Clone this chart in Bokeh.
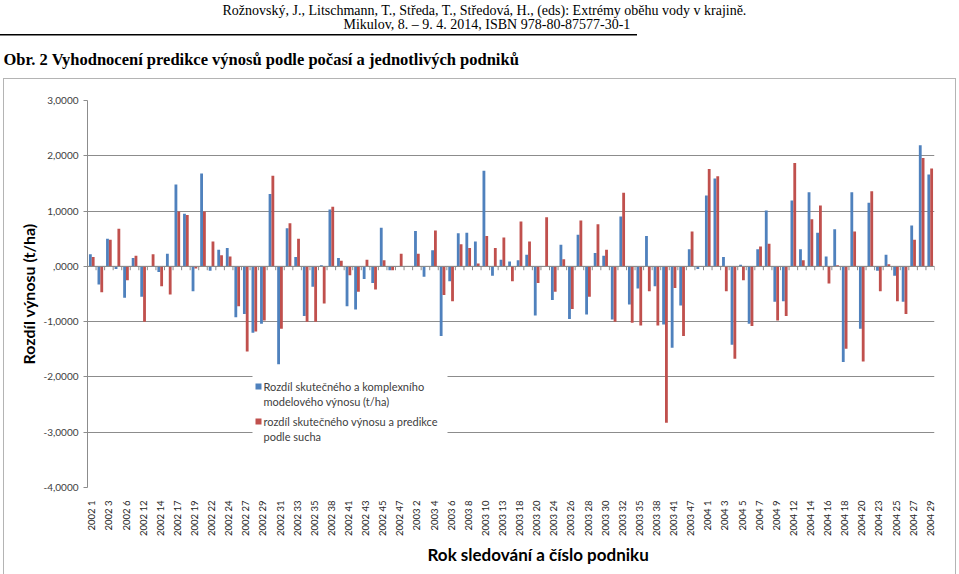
import math
from bokeh.plotting import figure
from bokeh.models import (ColumnDataSource, Range1d, FixedTicker, Label, BoxAnnotation, Span, Title,
                          LinearAxis)
from bokeh.transform import dodge
from bokeh.embed import file_html
from bokeh.resources import INLINE

# ---- data -------------------------------------------------------------
categories = [
    "2002 1", "2002 2", "2002 3", "2002 5", "2002 6", "2002 10", "2002 12", "2002 13",
    "2002 14", "2002 16", "2002 17", "2002 18", "2002 19", "2002 20", "2002 22", "2002 23",
    "2002 24", "2002 25", "2002 27", "2002 28", "2002 29", "2002 30", "2002 31", "2002 32",
    "2002 33", "2002 34", "2002 35", "2002 36", "2002 38", "2002 39", "2002 41", "2002 42",
    "2002 43", "2002 44", "2002 45", "2002 46", "2002 47", "2003 1", "2003 2", "2003 3",
    "2003 4", "2003 5", "2003 6", "2003 7", "2003 8", "2003 9", "2003 10", "2003 11",
    "2003 13", "2003 15", "2003 18", "2003 19", "2003 20", "2003 22", "2003 24", "2003 25",
    "2003 26", "2003 27", "2003 28", "2003 29", "2003 30", "2003 31", "2003 32", "2003 33",
    "2003 35", "2003 36", "2003 38", "2003 39", "2003 41", "2003 45", "2003 47", "2003 48",
    "2004 1", "2004 2", "2004 3", "2004 4", "2004 5", "2004 6", "2004 7", "2004 8",
    "2004 9", "2004 10", "2004 12", "2004 13", "2004 14", "2004 15", "2004 16", "2004 17",
    "2004 18", "2004 19", "2004 20", "2004 21", "2004 23", "2004 24", "2004 25", "2004 26",
    "2004 27", "2004 28", "2004 29",
]

rozdil_komplexni = [
    0.22, -0.33, 0.50, -0.05, -0.57, 0.15, -0.55, 0.00, -0.10, 0.23,
    1.48, 0.95, -0.45, 1.68, -0.08, 0.30, 0.33, -0.92, -0.86, -1.20,
    -1.04, 1.31, -1.77, 0.69, 0.17, -0.90, -0.37, 0.02, 1.03, 0.15,
    -0.72, -0.78, -0.23, -0.30, 0.70, -0.07, 0.00, 0.00, 0.64, -0.19,
    0.29, -1.26, -0.27, 0.60, 0.61, 0.45, 1.73, -0.17, 0.12, 0.09,
    0.11, 0.21, -0.89, 0.00, -0.61, 0.39, -0.95, 0.57, -0.87, 0.24,
    0.19, -0.96, 0.90, -0.69, -0.40, 0.55, -0.36, -1.05, -1.47, -0.71,
    0.31, -0.05, 1.28, 1.59, 0.17, -1.42, 0.03, -1.04, 0.31, 1.01,
    -0.64, -0.63, 1.19, 0.31, 1.34, 0.61, 0.18, 0.67, -1.73, 1.34,
    -1.13, 1.15, -0.08, 0.21, -0.17, -0.64, 0.74, 2.19, 1.66,
]

rozdil_sucho = [
    0.17, -0.47, 0.48, 0.68, -0.25, 0.19, -1.00, 0.22, -0.36, -0.51,
    0.99, 0.93, -0.04, 0.99, 0.45, 0.20, 0.18, -0.72, -1.54, -1.18,
    -0.98, 1.64, -1.13, 0.78, 0.50, -1.00, -1.00, -0.67, 1.08, 0.10,
    -0.16, -0.46, 0.12, -0.42, 0.11, -0.07, 0.23, 0.00, 0.23, 0.00,
    0.65, -0.52, -0.63, 0.40, 0.33, 0.05, 0.55, 0.33, 0.52, -0.27,
    0.81, 0.45, -0.30, 0.89, -0.46, 0.13, -0.77, 0.83, -0.55, 0.76,
    0.30, -1.00, 1.33, -1.02, -1.07, -0.45, -1.07, -2.83, -0.39, -1.26,
    0.63, 0.00, 1.76, 1.63, -0.45, -1.67, -0.25, -1.08, 0.36, 0.41,
    -0.98, -0.90, 1.87, 0.11, 0.85, 1.10, -0.31, 0.02, -1.49, 0.63,
    -1.72, 1.36, -0.45, 0.04, -0.63, -0.86, 0.48, 1.96, 1.77,
]

y_ticks = [-4, -3, -2, -1, 0, 1, 2, 3]
y_tick_labels = ["-4,0000", "-3,0000", "-2,0000", "-1,0000", ",0000", "1,0000", "2,0000", "3,0000"]

series_names = [
    ["Rozdíl skutečného  a komplexního", "modelového výnosu (t/ha)"],
    ["rozdíl skutečného výnosu a predikce", "podle sucha"],
]
header_lines = [
    "Rožnovský, J., Litschmann, T., Středa, T., Středová, H.,  (eds): Extrémy oběhu vody v krajině.",
    "Mikulov, 8. – 9. 4. 2014, ISBN 978-80-87577-30-1",
]
fig_title = "Obr. 2 Vyhodnocení predikce výnosů podle počasí a jednotlivých podniků"
y_title = "Rozdíl výnosu (t/ha)"
x_title = "Rok sledování a číslo podniku"

BLUE = "#4F81BD"
RED = "#C0504D"
GRID = "#8c8c8c"
BORDER = "#b4b4b4"

# ---- figure -----------------------------------------------------------
n = len(categories)
idx = list(range(n))
src = ColumnDataSource(dict(idx=idx, blue=rozdil_komplexni, red=rozdil_sucho, cat=categories))

W, H = 959, 574
FX0, FX1 = 87, 934     # page x of the plot area
FY0, FY1 = 100, 487    # page y of the plot area

page_bg = {
    "background-color": "white",
    "background-image": ", ".join(["linear-gradient(#000,#000)"] +
                                  [f"linear-gradient({BORDER},{BORDER})"] * 3),
    "background-position": "0px 34px, 3px 78px, 3px 78px, 955px 78px",
    "background-size": "637px 1.5px, 953px 1px, 1px 500px, 1px 500px",
    "background-repeat": "no-repeat",
}

p = figure(width=W, height=H, output_backend="svg", toolbar_location=None,
           x_range=Range1d(-0.5, n - 0.5), y_range=Range1d(-4, 3),
           min_border_left=FX0, min_border_right=W - FX1,
           min_border_top=FY0, min_border_bottom=H - FY1,
           background_fill_color="white", border_fill_color=None,
           styles=page_bg)
p.outline_line_color = None

p.vbar(x=dodge("idx", -0.165), top="blue", bottom=0, width=0.33, source=src,
       fill_color=BLUE, line_color=None)
p.vbar(x=dodge("idx", 0.165), top="red", bottom=0, width=0.33, source=src,
       fill_color=RED, line_color=None)

# zero line with category boundary ticks
p.add_layout(Span(location=0, dimension="width", line_color=GRID, line_width=1))
bx = [i - 0.5 for i in range(n + 1)]
p.segment(x0=bx, x1=bx, y0=[0] * len(bx), y1=[-0.07] * len(bx), line_color=GRID, line_width=1)

xa = p.xaxis[0]
xa.ticker = FixedTicker(ticks=idx[::2])
xa.major_label_overrides = {i: categories[i] for i in idx[::2]}
xa.major_label_orientation = math.pi / 2
xa.major_label_text_font = "Lato"
xa.major_label_text_font_size = "9.5px"
xa.major_label_text_color = "#262626"
xa.major_label_standoff = 7
xa.axis_line_color = None
xa.major_tick_line_color = None
xa.minor_tick_line_color = None

ya = p.yaxis[0]
ya.ticker = FixedTicker(ticks=y_ticks)
ya.major_label_overrides = dict(zip(y_ticks, y_tick_labels))
ya.major_label_text_font = "Lato"
ya.major_label_text_font_size = "10px"
ya.major_label_text_color = "#404040"
ya.major_label_standoff = 5
ya.axis_line_color = GRID
ya.major_tick_line_color = GRID
ya.major_tick_out = 4
ya.major_tick_in = 0
ya.minor_tick_line_color = None
ya.axis_label = y_title
ya.axis_label_text_font = "Lato"
ya.axis_label_text_font_size = "16px"
ya.axis_label_text_font_style = "bold"
ya.axis_label_text_color = "black"
ya.axis_label_standoff = 3

p.xgrid.grid_line_color = None
p.ygrid.ticker = FixedTicker(ticks=y_ticks)
p.ygrid.grid_line_color = GRID
p.ygrid.grid_line_width = 1

# space between the figure title and the plot area: an invisible axis
spacer = LinearAxis(ticker=FixedTicker(ticks=[idx[n // 2]]), axis_line_color=None,
                    major_tick_line_color=None, minor_tick_line_color=None,
                    major_tick_out=13, major_tick_in=0, major_label_standoff=0,
                    major_label_overrides={idx[n // 2]: ""},
                    major_label_text_font_size="0px", axis_label_standoff=0)
p.add_layout(spacer, "above")

# titles (above: first added sits nearest the plot area)
p.add_layout(Title(text=fig_title, align="left", offset=3 - FX0, text_font="Liberation Serif",
                   text_font_size="16.5px", text_font_style="bold", text_color="black",
                   standoff=37), "above")
p.add_layout(Title(text=header_lines[1], align="left", offset=343 - FX0, text_font="Liberation Serif",
                   text_font_size="14px", text_font_style="normal", text_color="black",
                   standoff=-4), "above")
p.add_layout(Title(text=header_lines[0], align="left", offset=222 - FX0, text_font="Liberation Serif",
                   text_font_size="14px", text_font_style="normal", text_color="black",
                   standoff=-3), "above")
p.add_layout(Title(text=x_title, align="left", offset=427 - FX0, text_font="Lato",
                   text_font_size="17px", text_font_style="bold", text_color="black",
                   standoff=6), "below")

# legend (frame-relative screen units)
def sx(X):
    return X - FX0
def sy(Y):
    return FY1 - Y

p.add_layout(BoxAnnotation(left=sx(252), right=sx(447), top=sy(372), bottom=sy(458),
                           left_units="screen", right_units="screen",
                           top_units="screen", bottom_units="screen",
                           fill_color="white", fill_alpha=1, line_color=None))
for k, (col, lines) in enumerate(zip([BLUE, RED], series_names)):
    ytop = 383 + k * 35
    p.add_layout(BoxAnnotation(left=sx(255), right=sx(261), top=sy(ytop), bottom=sy(ytop + 6),
                               left_units="screen", right_units="screen",
                               top_units="screen", bottom_units="screen",
                               fill_color=col, fill_alpha=1, line_color=None))
    for j, t in enumerate(lines):
        p.add_layout(Label(x=sx(263), y=sy(ytop + 3 + j * 15), x_units="screen", y_units="screen",
                           text=t, text_font="Lato", text_font_size="11px",
                           text_align="left", text_baseline="middle", text_color="#404040"))

open("out.html", "w").write(file_html(p, INLINE))
